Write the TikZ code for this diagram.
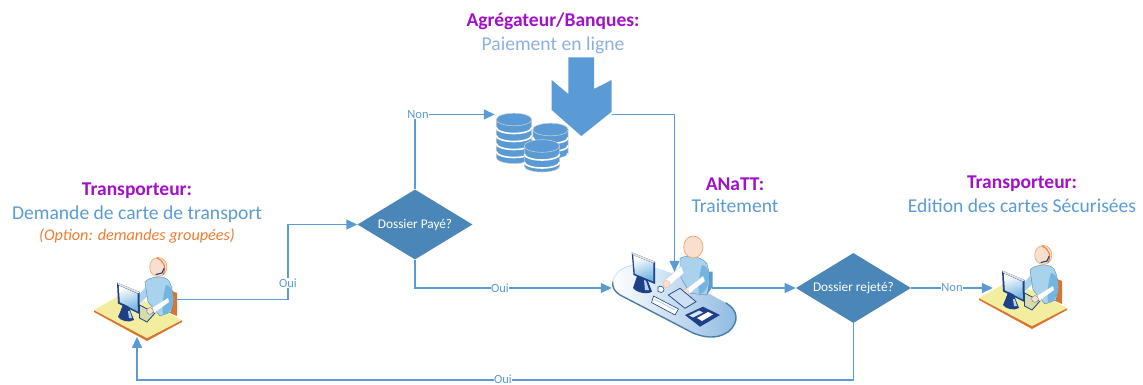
\documentclass[tikz,border=0pt]{standalone}
\usepackage{fontspec}
\setmainfont{Carlito}
\usetikzlibrary{arrows.meta,shapes.geometric}
\definecolor{lnk}{HTML}{5B9BD5}
\definecolor{dia}{HTML}{4A86B8}
\definecolor{purp}{HTML}{A210C8}
\definecolor{oran}{HTML}{ED7D31}
\definecolor{pale}{HTML}{8DB1DE}
\definecolor{navy}{HTML}{1F3F86}
\definecolor{deskc}{HTML}{F3EDA0}
\definecolor{deske}{HTML}{D9762E}
\definecolor{skin}{HTML}{F8DFCE}
\definecolor{cloth}{HTML}{A9D2EC}
\definecolor{clothd}{HTML}{74B4E0}
\tikzset{
 x=1pt,y=-1pt,
 conn/.style={draw=lnk,line width=1.3pt,-{Triangle[length=11pt,width=10pt,fill=lnk]}},
 lbl/.style={fill=white,text=lnk,font=\fontsize{12.5}{13}\selectfont,inner sep=0.5pt},
 deci/.style={shape=diamond,fill=dia,text=white,aspect=1.65,inner sep=0pt,minimum width=115pt,minimum height=70pt,font=\fontsize{13.3}{14}\selectfont},
 anch/.style={inner sep=0pt,minimum size=0pt},
 head/.style={font=\bfseries\fontsize{19.5}{21}\selectfont,text=purp},
 subh/.style={font=\fontsize{19.6}{21}\selectfont,text=lnk},
 pics/coin/.style={code={
  \fill[lnk,draw=gray!45,line width=.5pt] (-17.7,0) -- (-17.7,#1) arc[x radius=17.7,y radius=6,start angle=180,end angle=0] -- (17.7,0) -- cycle;
  \foreach \yy in {8,16,...,#1}{\draw[white,line width=1.6pt] (-17.7,\yy) arc[x radius=17.7,y radius=6,start angle=180,end angle=0];}
  \fill[lnk,draw=gray!35,line width=.5pt] (0,0) ellipse[x radius=17.7,y radius=6.3];
 }},
 agentpic/.pic={
  % desk
  \fill[deske] (94,310) -- (147,338) -- (182,320) -- (182,322) -- (147,341) -- (94,312) -- cycle;
  \fill[deskc] (94,310) -- (126,292) -- (182,320) -- (147,338) -- cycle;
  % chair
  \fill[deske] (172,291) -- (177,293) -- (177,316) -- (170,313) -- cycle;
  % left arm
  \fill[cloth,draw=white,line width=.6pt] (139,294) -- (148,284) -- (152,292) -- (139,305) -- cycle;
  % body
  \fill[cloth,draw=lnk!75!black,line width=.3pt] (145,282) .. controls (150,276) and (165,275) .. (169,281) .. controls (174,290) and (174,303) .. (171,312) -- (160,316) -- (148,302) -- cycle;
  \fill[clothd] (166,285) .. controls (173,286) and (174,296) .. (173,304) .. controls (172,310) and (168,314) .. (163,315) .. controls (162,305) and (163,295) .. (166,285) -- cycle;
  % tray
  \fill[deskc!80!lnk,draw=navy,line width=.8pt] (139.5,305) -- (155,313) -- (147,322) -- (139.5,318) -- cycle;
  % forearm and hand
  \fill[white] (152,308) -- (168,298) -- (169,302) -- (154,313) -- cycle;
  \fill[skin,draw=lnk!60!black,line width=.25pt] (150,311) circle[radius=3.4];
  % head and headset
  \fill[skin,draw=oran!70!white,line width=.6pt] (158.3,267) circle[x radius=8.6,y radius=9.6];
  \draw[oran,line width=1pt] (157,258) .. controls (163,260) and (167,267) .. (163,275);
  \draw[navy,line width=1.1pt,line cap=round] (156,274.5) -- (162,273) -- (164,268.5);
  % monitor stand
  \fill[navy] (123.5,304) -- (128.5,306) -- (134,320) .. controls (129,323) and (121,321) .. (118,317) -- cycle;
  \fill[lnk!45!white] (127.5,308) -- (129,308.5) -- (132,318) -- (129,318) -- cycle;
  % monitor
  \fill[navy] (117,282.5) -- (139.5,292) -- (139.5,314) -- (118,303.5) -- cycle;
  \fill[gray!25] (117,282.5) -- (139.5,292) -- (138,293.5) -- (118.5,285) -- cycle;
  \shade[top color=white,bottom color=clothd,shading angle=20] (118.8,285.5) -- (137.6,293.8) -- (137.8,311.5) -- (119.8,302.2) -- cycle;
  \fill[navy] (123.5,304) -- (128.5,306.5) -- (130,311) -- (121,310) -- cycle;
 },
}
\begin{document}
\begin{tikzpicture}[x=1pt,y=-1pt]
\useasboundingbox (0,0) rectangle (1143,385);
% icons
\pic at (0,0) {agentpic};
\pic at (885,-12) {agentpic};
% coins
\pic at (514,119.5) {coin={38}};
\pic at (550.5,129.5) {coin={24}};
\pic at (542,146) {coin={20}};
% big arrow
\fill[lnk] (568.3,57.3) -- (594,57.3) -- (594,89) -- (611.7,80) -- (611.7,111.7) -- (581.3,136) -- (551.7,110) -- (551.7,80) -- (568.3,94) -- cycle;
% pod agent
\shade[shading angle=115,left color=white,right color=lnk!70!white] (612.7,282) .. controls (614,274) and (622,266) .. (635,265) .. controls (645,265) and (660,268) .. (673,274) -- (726,303) .. controls (738,310) and (740,322) .. (728,332) .. controls (716,340) and (703,337) .. (693,333) -- (620,295) .. controls (615,292) and (612,287) .. (612.7,282) -- cycle;
\draw[lnk!80!black,line width=1.4pt,line cap=round] (726,303) .. controls (738,310) and (740,322) .. (728,332) .. controls (716,340) and (703,337) .. (693,333) -- (620,295) .. controls (615,292) and (612,287) .. (612.7,282);
\draw[lnk!45,line width=.5pt] (612.7,282) .. controls (614,274) and (622,266) .. (635,265);
% chair, body
\fill[lnk] (708,271.7) -- (712.7,271.7) -- (712.7,286.7) -- (706.7,295) -- cycle;
\fill[cloth,draw=lnk!75!black,line width=.3pt] (680,258.3) .. controls (685,255) and (700,255) .. (706.7,263.3) .. controls (710,272) and (710,285) .. (706.7,295) -- (690,293.3) -- (680,276) -- cycle;
\fill[clothd] (702,265) .. controls (709,266) and (710,276) .. (708,284) .. controls (706,291) and (703,294) .. (699,294) .. controls (698,285) and (699,275) .. (702,265) -- cycle;
\fill[white,draw=lnk!50,line width=.3pt] (665,280) -- (681,266) -- (684,273) -- (668,287) -- cycle;
\fill[white,draw=lnk!50,line width=.3pt] (685,290) -- (703,276) -- (705,281) -- (688,295) -- cycle;
\fill[skin,draw=oran!60,line width=.3pt] (666.5,284) circle[radius=3.6];
\fill[skin,draw=oran!60,line width=.3pt] (685.5,292.7) circle[radius=3.6];
\fill[skin,draw=oran!70!white,line width=.7pt] (693.3,247) circle[x radius=9.7,y radius=11];
% mouse
\fill[white,draw=navy,line width=.6pt] (658,287) .. controls (661,285) and (664,287) .. (664,290) .. controls (663,293) and (660,293) .. (658,291.5) -- cycle;
% tablet
\fill[lnk!30!white,draw=navy,line width=.7pt] (668.3,295) -- (680,288.3) -- (696,301.7) -- (685,308.3) -- cycle;
% keyboard
\fill[white,draw=navy,line width=.6pt] (653.5,296) -- (678.5,309) -- (675,315) -- (651.5,302.5) -- cycle;
\draw[lnk!50,line width=.8pt] (655,299.5) -- (675,310);
% phone
\fill[navy] (685,315) -- (703,306.7) -- (720,315) -- (700,326.7) -- cycle;
\fill[lnk!25!white] (689,315.5) -- (699,310.5) -- (703,312.5) -- (693,317.5) -- cycle;
\fill[white] (697,318) -- (708,312) -- (713,314.5) -- (702,321) -- cycle;
% monitor stand and monitor
\fill[navy] (638,273) -- (646,276) -- (652,291.5) .. controls (648,295) and (637,293) .. (633,288) -- cycle;
\fill[lnk!45!white] (644,280) -- (646,281) -- (649,290) -- (645,290) -- cycle;
\fill[navy] (631.7,252.3) -- (655,261.7) -- (655,284) -- (633.5,275) -- cycle;
\fill[gray!25] (631.7,252.3) -- (655,261.7) -- (653.5,263) -- (633,255) -- cycle;
\shade[top color=white,bottom color=clothd,shading angle=20] (633.2,255.3) -- (653.3,263.2) -- (653.3,281.5) -- (634.8,273.8) -- cycle;
% decision nodes
\node[deci] (payed) at (415,224.5) {Dossier Payé?};
\node[deci] (rej) at (853.4,288) {Dossier rejeté?};
% anchors
\node[anch] (a1out) at (175,299.4) {};
\node[anch] (a1in) at (137,336.7) {};
\node[anch] (coins) at (495,114.5) {};
\node[anch] (barrow) at (611.7,114.5) {};
\node[anch] (podin) at (612,288) {};
\node[anch] (podtop) at (674.5,272) {};
\node[anch] (podout) at (712,288) {};
\node[anch] (a2in) at (993,288) {};
% connectors
\draw[conn] (a1out) -- (288,299.4) -- (288,224.5) -- (payed.west);
\node[lbl] at (288,283) {Oui};
\draw[conn] (payed.north) -- (415,114.5) -- (coins);
\node[lbl] at (418,114.5) {Non};
\draw[conn] (payed.south) -- (415,288) -- (podin);
\node[lbl] at (500,288) {Oui};
\draw[conn] (barrow) -- (674.5,114.5) -- (podtop);
\draw[conn] (podout) -- (rej.west);
\draw[conn] (rej.east) -- (a2in);
\node[lbl] at (952,288) {Non};
\draw[conn] (rej.south) -- (853.4,380) -- (137,380) -- (a1in);
\node[lbl] at (503,379.5) {Oui};
% texts
\node[head] (t1) at (137,191) {Transporteur:};
\node[subh] (s1) at (137,214) {Demande de carte de transport};
\node[text=oran,font=\itshape\fontsize{16.2}{18}\selectfont] (o1) at (137,236) {(Option: demandes groupées)};
\node[head] (t2) at (553,21) {Agrégateur/Banques:};
\node[subh,text=pale] (s2) at (553,45) {Paiement en ligne};
\node[head] (t3) at (735,184) {ANaTT:};
\node[subh] (s3) at (735,206) {Traitement};
\node[head] (t4) at (1022,184) {Transporteur:};
\node[subh] (s4) at (1022,206) {Edition des cartes Sécurisées};
\end{tikzpicture}
\end{document}
